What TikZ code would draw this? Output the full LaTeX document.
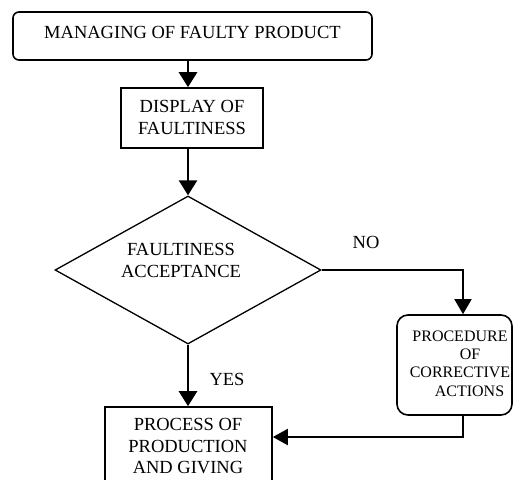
\documentclass[tikz,border=0pt]{standalone}
\usepackage{fontspec}
\setmainfont{Liberation Serif}
\usetikzlibrary{arrows.meta,shapes.geometric}
\begin{document}
\begin{tikzpicture}[x=1pt,y=-1pt,
  frame/.style={draw,line width=1.6pt,inner sep=0pt},
  txt/.style={inner sep=0pt,align=center,font=\fontsize{18.5}{21.5}\selectfont},
  smalltxt/.style={inner sep=0pt,align=center,font=\fontsize{16}{18.3}\selectfont},
  arr/.style={-{Triangle[length=15pt,width=18pt]},line width=2.6pt},
  arrthin/.style={-{Triangle[length=15pt,width=17pt]},line width=1.5pt},
  arrmid/.style={-{Triangle[length=15pt,width=16pt]},line width=2pt}]
\useasboundingbox (0,0) rectangle (513,479);
\clip (0,0) rectangle (513,479);
% shapes
\node[frame,rounded corners=6pt,minimum width=359pt,minimum height=48pt] (top) at (192.5,36) {};
\node[frame,minimum width=142pt,minimum height=60pt] (disp) at (192,118) {};
\node[draw,diamond,line width=1.3pt,minimum width=266pt,minimum height=148pt,inner sep=0pt] (dia) at (188,270) {};
\node[frame,rounded corners=11pt,minimum width=115pt,minimum height=100pt] (corr) at (454.5,365) {};
\node[frame,minimum width=167pt,minimum height=100pt] (proc) at (188.5,457) {};
% texts
\node[txt] (toptxt) at (192.5,32) {MANAGING OF FAULTY PRODUCT};
\node[txt] (disptxt) at (192,117.5) {DISPLAY OF\\FAULTINESS};
\node[txt] (diatxt) at (181,260.5) {FAULTINESS\\ACCEPTANCE};
\node[smalltxt] (corrtxt) at (460,363.5) {PROCEDURE\\\hspace*{20pt}OF\\CORRECTIVE\\\hspace*{19pt}ACTIONS};
\node[txt] (proctxt) at (188,446.5) {PROCESS OF\\PRODUCTION\\AND GIVING};
\node[txt] (no) at (366,242) {NO};
\node[txt] (yes) at (227,379) {YES};
% connectors
\coordinate (cx) at (463,0);
\coordinate (ry) at (0,437);
\draw[arr] (top.south -| dia.north) -- (disp.north -| dia.north);
\draw[arr] (disp.south -| dia.north) -- (dia.north);
\draw[arr] (dia.south) -- (proc.north -| dia.south);
\draw[arrthin] (dia.east) -| (corr.north -| cx);
\draw[arrmid] (corr.south -| cx) |- (proc.east |- ry);
\end{tikzpicture}
\end{document}
